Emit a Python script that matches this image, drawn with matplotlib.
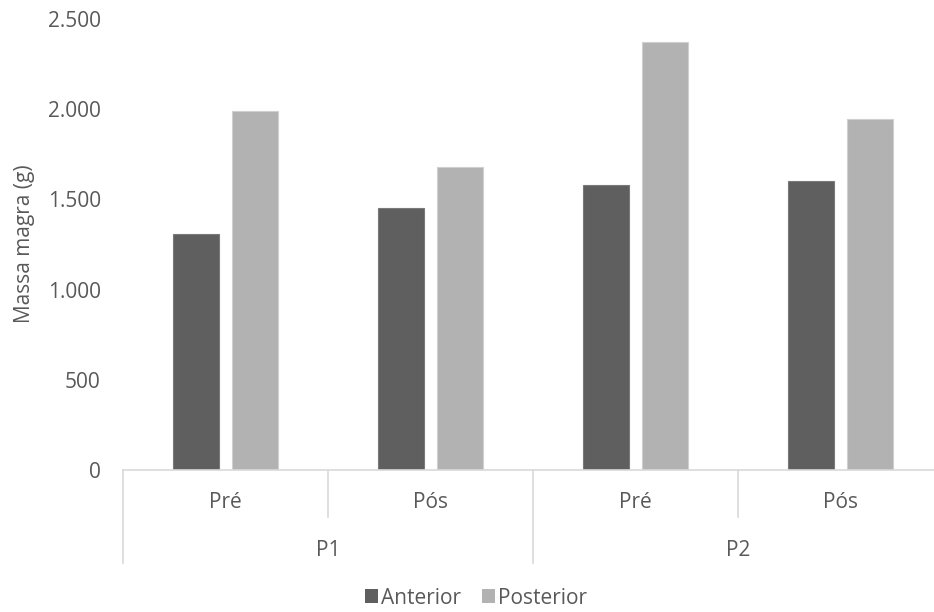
import matplotlib.pyplot as plt
import matplotlib as mtpl
from matplotlib.patches import Patch
from matplotlib.lines import Line2D
from matplotlib.ticker import FuncFormatter
import numpy as np

mtpl.rcParams['font.family'] = ['Open Sans', 'DejaVu Sans']
FS = 15

# lean mass per period / moment
periods = ["P1", "P2"]
moments = ["Pré", "Pós", "Pré", "Pós"]
anterior = [1308, 1452, 1580, 1602]
posterior = [1992, 1680, 2372, 1946]

dark = "#5f5f5f"
light = "#b2b2b2"
text_col = "#595959"
line_col = "#d9d9d9"

W, H = 934, 612
fig = plt.figure(figsize=(W / 100, H / 100), dpi=100)

# plot area in pixels: left 123, right 943 (runs past the edge), y0 at 470, y2500 at 19
left, right, top, bottom = 123, 943, 19, 470
ax = fig.add_axes([left / W, 1 - bottom / H, (right - left) / W, (bottom - top) / H])

x = np.arange(len(moments))
width = 0.224
off = 0.144
ax.bar(x - off, anterior, width, color=dark, edgecolor="#7a7a7a", linewidth=0.8, zorder=2)
ax.bar(x + off, posterior, width, color=light, edgecolor="#d0d0d0", linewidth=0.8, zorder=2)

ax.set_xlim(-0.5, len(moments) - 0.5)
ax.set_ylim(0, 2500)
ax.set_yticks(np.arange(0, 2501, 500))
ax.yaxis.set_major_formatter(FuncFormatter(lambda v, p: f"{int(v):,}".replace(",", ".")))
ax.tick_params(axis='y', length=0, pad=16, labelsize=FS, labelcolor=text_col)
ax.set_xticks([])

for s in ['left', 'top', 'right']:
    ax.spines[s].set_visible(False)
ax.spines['bottom'].set_color(line_col)
ax.spines['bottom'].set_linewidth(1.2)

# two-level category axis
tr = ax.get_xaxis_transform()
px = 1.0 / (bottom - top)
lvl1 = -(517 - bottom) * px
lvl2 = -(563 - bottom) * px
for i, m in enumerate(moments):
    ax.text(i, -(502 - bottom) * px, m, transform=tr, ha='center', va='center',
            fontsize=FS, color=text_col)
for i, p in enumerate(periods):
    ax.text(2 * i + 0.5, -(550 - bottom) * px, p, transform=tr, ha='center', va='center',
            fontsize=FS, color=text_col)

for xv, y1 in [(-0.5, lvl2), (0.5, lvl1), (1.5, lvl2), (2.5, lvl1)]:
    ax.add_line(Line2D([xv, xv], [0, y1], transform=tr, color=line_col,
                       linewidth=1.2, clip_on=False))

fig.text(25 / W, 1 - 244 / H, "Massa magra (g)", rotation=90, ha='center', va='center',
         fontsize=FS, color=text_col)

handles = [Patch(facecolor=dark, label="Anterior"), Patch(facecolor=light, label="Posterior")]
leg = fig.legend(handles=handles, loc='center', bbox_to_anchor=(476 / W, 1 - 598 / H), ncol=2,
                 frameon=False, fontsize=FS, handlelength=0.62, handleheight=0.62,
                 handletextpad=0.15, columnspacing=1.0)
for t in leg.get_texts():
    t.set_color(text_col)

fig.savefig("out.png", dpi=100)
